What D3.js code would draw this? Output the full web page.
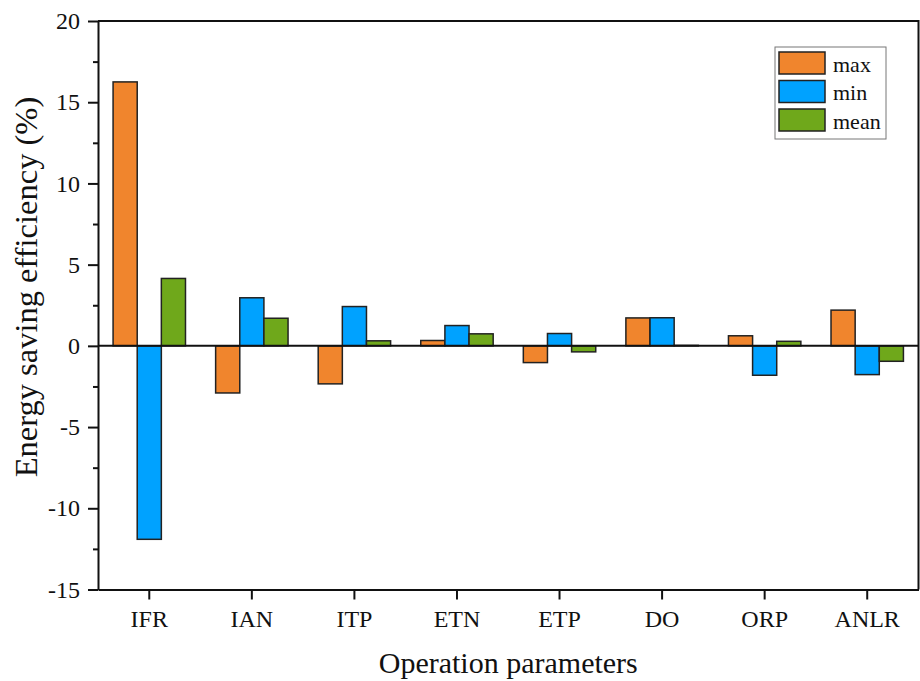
<!DOCTYPE html>
<html>
<head>
<meta charset="utf-8">
<script src="https://cdn.jsdelivr.net/npm/d3@7"></script>
<style>
  html, body { margin: 0; padding: 0; background: #fff; }
  svg { display: block; }
  text { font-family: "Liberation Serif", "Times New Roman", Times, serif; fill: #111; }
</style>
</head>
<body>
<svg id="chart" width="920" height="681"></svg>
<script>
// Operation parameters along the x axis
const categories = ["IFR", "IAN", "ITP", "ETN", "ETP", "DO", "ORP", "ANLR"];
// Energy saving efficiency (%) per parameter
const maxValues  = [16.25, -2.90, -2.34, 0.33, -1.03, 1.72, 0.62, 2.20];
const minValues  = [-11.91, 2.96, 2.42, 1.25, 0.76, 1.73, -1.81, -1.77];
const meanValues = [4.15, 1.70, 0.31, 0.74, -0.37, 0.03, 0.28, -0.95];
const seriesNames = ["max", "min", "mean"];
const seriesColors = ["#F0852D", "#00A2FF", "#6FA81B"];
const yTicks = [-15, -10, -5, 0, 5, 10, 15, 20];

const seriesValues = [maxValues, minValues, meanValues];
const rows = categories.map((c, i) => ({
  cat: c,
  vals: seriesNames.map((s, j) => ({ key: s, value: seriesValues[j][i] }))
}));

const svg = d3.select("#chart");
const plotLeft = 98, plotRight = 918.5, plotTop = 21, plotBottom = 589.5;

const x = d3.scaleBand().domain(categories).range([plotLeft, plotRight])
  .paddingInner(0.294).paddingOuter(0.147);
const xs = d3.scaleBand().domain(seriesNames).range([0, x.bandwidth()]);
const y = d3.scaleLinear().domain([-15, 20]).range([plotBottom, plotTop]);
const color = d3.scaleOrdinal().domain(seriesNames).range(seriesColors);

// bars
const groups = svg.append("g").selectAll("g").data(rows).join("g")
  .attr("transform", d => `translate(${x(d.cat)},0)`);
groups.selectAll("rect").data(d => d.vals).join("rect")
  .attr("x", d => xs(d.key))
  .attr("width", xs.bandwidth())
  .attr("y", d => y(Math.max(0, d.value)))
  .attr("height", d => Math.abs(y(d.value) - y(0)))
  .attr("fill", d => color(d.key))
  .attr("stroke", "#222")
  .attr("stroke-width", 1.5);

// zero line
svg.append("line")
  .attr("x1", plotLeft).attr("x2", plotRight)
  .attr("y1", y(0)).attr("y2", y(0))
  .attr("stroke", "#111").attr("stroke-width", 2);

// frame: top and right
svg.append("path")
  .attr("d", `M${plotLeft},${plotTop}H${plotRight}V${plotBottom}`)
  .attr("fill", "none").attr("stroke", "#111").attr("stroke-width", 2);

// minor y ticks
const minorTicks = d3.range(-15, 20.01, 2.5).filter(v => !yTicks.includes(v));
svg.append("g").attr("transform", `translate(${plotLeft},0)`)
  .call(d3.axisLeft(y).tickValues(minorTicks).tickSize(5).tickFormat(""))
  .call(g => g.select(".domain").remove())
  .call(g => g.selectAll("line").attr("stroke", "#111").attr("stroke-width", 2));

// major y axis (plain hyphen for negative labels)
const yAxis = svg.append("g").attr("transform", `translate(${plotLeft},0)`)
  .call(d3.axisLeft(y).tickValues(yTicks).tickFormat(d => String(d))
    .tickSize(10).tickPadding(8).tickSizeOuter(0));
yAxis.select(".domain").attr("stroke", "#111").attr("stroke-width", 2);
yAxis.selectAll("line").attr("stroke", "#111").attr("stroke-width", 2);
yAxis.selectAll("text").attr("font-size", 24).style("font-family", "Liberation Serif, serif").attr("fill", "#111");

// x axis
const xAxis = svg.append("g").attr("transform", `translate(0,${plotBottom})`)
  .call(d3.axisBottom(x).tickSize(10).tickPadding(10).tickSizeOuter(0));
xAxis.select(".domain").attr("stroke", "#111").attr("stroke-width", 2);
xAxis.selectAll("line").attr("stroke", "#111").attr("stroke-width", 2);
xAxis.selectAll("text").attr("font-size", 24).style("font-family", "Liberation Serif, serif").attr("fill", "#111");

// axis titles
svg.append("text")
  .attr("x", (plotLeft + plotRight) / 2).attr("y", 673)
  .attr("text-anchor", "middle").attr("font-size", 30)
  .text("Operation parameters");
svg.append("text")
  .attr("transform", "translate(37,287) rotate(-90)")
  .attr("text-anchor", "middle").attr("font-size", 32.5)
  .text("Energy saving efficiency (%)");

// legend
const lg = svg.append("g");
lg.append("rect").attr("x", 775).attr("y", 47).attr("width", 111).attr("height", 92)
  .attr("fill", "#fff").attr("stroke", "#777").attr("stroke-width", 1);
const items = lg.selectAll("g").data(seriesNames).join("g")
  .attr("transform", (d, i) => `translate(779,${52 + i * 28.5})`);
items.append("rect").attr("width", 46).attr("height", 22)
  .attr("fill", d => color(d)).attr("stroke", "#222").attr("stroke-width", 1.5);
items.append("text").attr("x", 54).attr("y", 19.5).attr("font-size", 22).text(d => d);
</script>
</body>
</html>
